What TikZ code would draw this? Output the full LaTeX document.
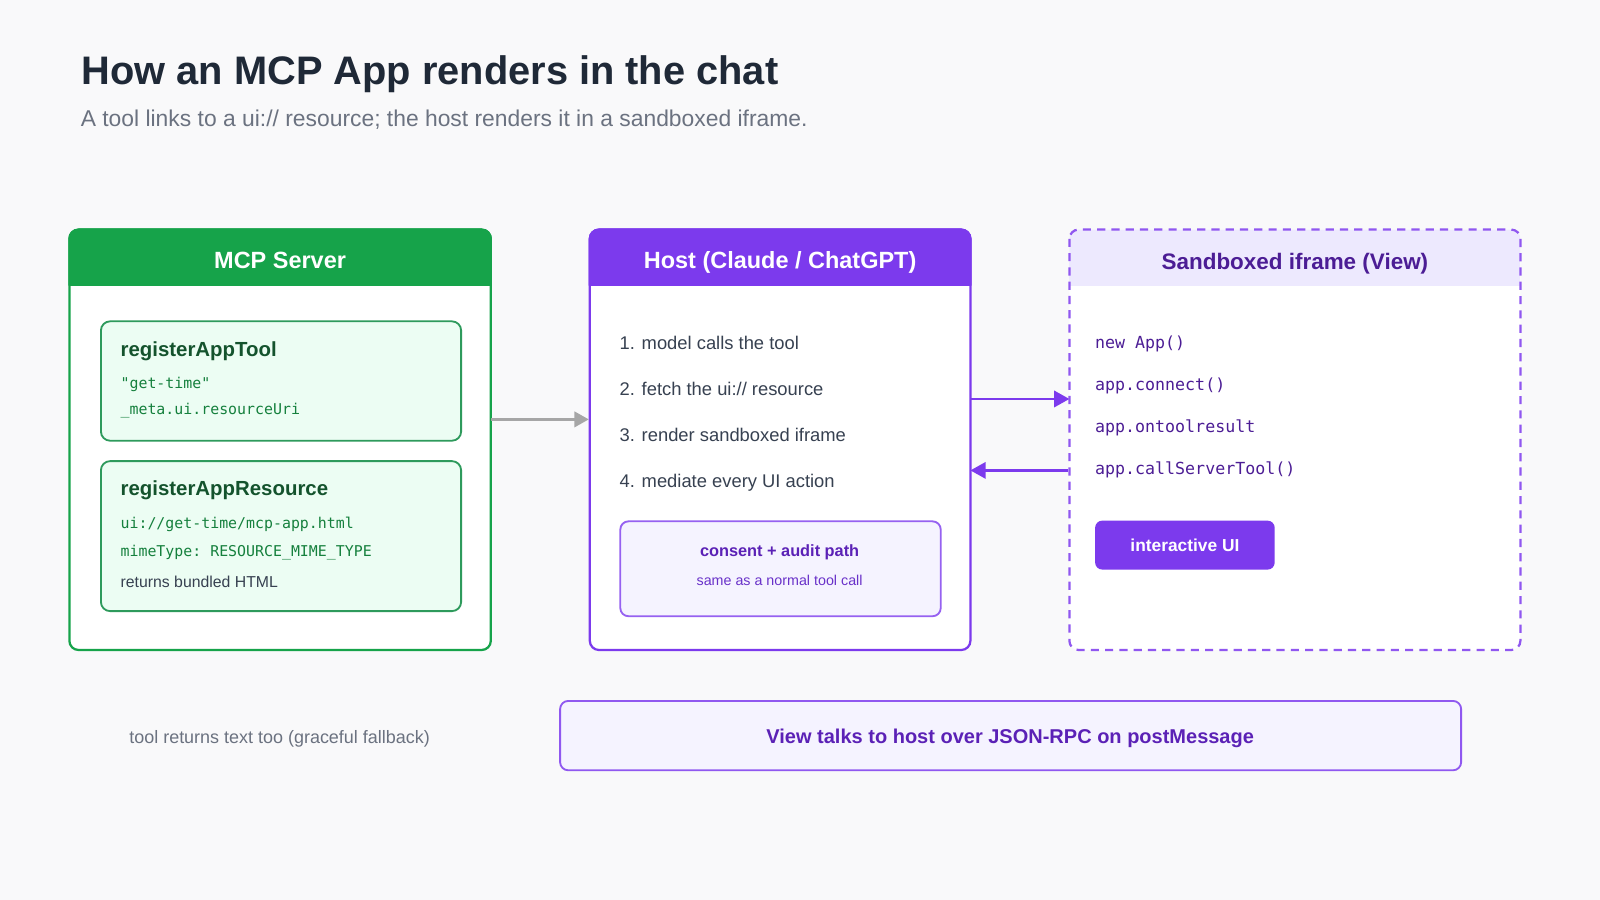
\documentclass[tikz,border=0pt]{standalone}
\usepackage{fontspec}
\setmainfont{Liberation Sans}
\setmonofont{DejaVu Sans Mono}
\usetikzlibrary{arrows.meta}
\definecolor{bg}{HTML}{F9F9FA}
\definecolor{grn}{HTML}{16A34A}
\definecolor{grnb}{HTML}{2E9A5C}
\definecolor{grnf}{HTML}{ECFDF3}
\definecolor{grnd}{HTML}{14532D}
\definecolor{grnt}{HTML}{15803D}
\definecolor{pur}{HTML}{7C3AED}
\definecolor{purf}{HTML}{F5F3FF}
\definecolor{purh}{HTML}{EDE9FE}
\definecolor{purd}{HTML}{4C1D95}
\definecolor{purt}{HTML}{5B21B6}
\definecolor{ink}{HTML}{1F2937}
\definecolor{gry}{HTML}{6B7280}
\definecolor{txt}{HTML}{374151}
\tikzset{
  panel/.style={rounded corners=9pt,line width=2.2pt,fill=white},
  inner/.style={rounded corners=9pt,line width=1.8pt,draw=grnb,fill=grnf},
  lbl/.style={anchor=base west,inner sep=0pt},
  ctr/.style={anchor=base,inner sep=0pt},
  mono/.style={lbl,font=\fontsize{14.6}{18}\selectfont\ttfamily},
  hstep/.style={lbl,text=txt,font=\fontsize{18}{22}\selectfont},
  code/.style={lbl,text=purd,font=\fontsize{16.3}{19}\selectfont\ttfamily},
  arr/.style={line width=2.5pt,-{Triangle[length=15pt,width=16pt]}}
}
\begin{document}
\begin{tikzpicture}[x=1pt,y=-1pt]
\fill[bg] (0,0) rectangle (1568,882);
\useasboundingbox (0,0) rectangle (1568,882);
\node[lbl,text=ink,font=\fontsize{39}{44}\selectfont\bfseries] (title) at (80,83) {How an MCP App renders in the chat};
\node[lbl,text=gry,font=\fontsize{22.4}{27}\selectfont] (sub) at (79,124) {A tool links to a ui:// resource; the host renders it in a sandboxed iframe.};

% MCP server panel
\draw[panel,draw=grn] (68,225) rectangle (481,637);
\fill[grn,rounded corners=9pt] (68,225) rectangle (481,262);
\fill[grn] (68,250) rectangle (481,280);
\draw[grn,line width=2.2pt,rounded corners=9pt] (68,280) -- (68,225) -- (481,225) -- (481,280);
\node[ctr,text=white,font=\fontsize{23}{28}\selectfont\bfseries] (srvh) at (274.5,263) {MCP Server};
\node[inner,minimum width=353pt,minimum height=117pt,anchor=north west] (tool) at (98,314) {};
\node[lbl,text=grnd,font=\fontsize{20}{24}\selectfont\bfseries] (toolt) at (118,349) {registerAppTool};
\node[mono,text=grnt] (t1) at (118,381) {"get-time"};
\node[mono,text=grnt] (t2) at (118,406) {\_meta.ui.resourceUri};
\node[inner,minimum width=353pt,minimum height=147pt,anchor=north west] (res) at (98,451) {};
\node[lbl,text=grnd,font=\fontsize{20}{24}\selectfont\bfseries] (rest) at (118,486) {registerAppResource};
\node[mono,text=grnt] (r1) at (118,518) {ui://get-time/mcp-app.html};
\node[mono,text=grnt] (r2) at (118,545) {mimeType: RESOURCE\_MIME\_TYPE};
\node[lbl,text=txt,font=\fontsize{15.5}{18}\selectfont] (r3) at (118,576) {returns bundled HTML};

% Host panel
\draw[panel,draw=pur] (578,225) rectangle (951,637);
\fill[pur,rounded corners=9pt] (578,225) rectangle (951,262);
\fill[pur] (578,250) rectangle (951,280);
\draw[pur,line width=2.2pt,rounded corners=9pt] (578,280) -- (578,225) -- (951,225) -- (951,280);
\node[ctr,text=white,font=\fontsize{23}{28}\selectfont\bfseries] (hosth) at (764.5,263) {Host (Claude / ChatGPT)};
\node[hstep] (s1) at (607,343) {1. model calls the tool};
\node[hstep] (s2) at (607,388) {2. fetch the ui:// resource};
\node[hstep] (s3) at (607,433) {3. render sandboxed iframe};
\node[hstep] (s4) at (607,478) {4. mediate every UI action};
\node[draw=pur!80,line width=1.8pt,fill=purf,rounded corners=8pt,minimum width=314pt,minimum height=93pt,anchor=north west] (consent) at (607,510) {};
\node[ctr,text=purt,font=\fontsize{16}{19}\selectfont\bfseries] (c1) at (764,545) {consent + audit path};
\node[ctr,text=pur!85!black,font=\fontsize{14}{17}\selectfont] (c2) at (764,574) {same as a normal tool call};

% View panel
\fill[white,rounded corners=9pt] (1048,225) rectangle (1490,637);
\fill[purh,rounded corners=9pt] (1048,225) rectangle (1490,262);
\fill[purh] (1048,250) rectangle (1490,280);
\draw[pur!85,line width=2.2pt,dash pattern=on 8pt off 6pt,rounded corners=9pt] (1048,225) rectangle (1490,637);
\node[ctr,text=purd,font=\fontsize{22}{26}\selectfont\bfseries] (viewh) at (1269,264) {Sandboxed iframe (View)};
\node[code] (v1) at (1073,342) {new App()};
\node[code] (v2) at (1073,383) {app.connect()};
\node[code] (v3) at (1073,424) {app.ontoolresult};
\node[code] (v4) at (1073,465) {app.callServerTool()};
\node[fill=pur,rounded corners=7pt,minimum width=176pt,minimum height=48pt,anchor=north west] (ui) at (1073,510) {};
\node[text=white,font=\fontsize{17}{20}\selectfont\bfseries] (uit) at (ui.center) {interactive UI};

% connectors
\coordinate (a1s) at (481,411); \coordinate (a1e) at (577,411);
\draw[line width=2.5pt,draw=gray!70,-{Triangle[length=14pt,width=15pt]}] (a1s) -- (a1e);
\coordinate (a2s) at (952,391); \coordinate (a2e) at (1048,391);
\draw[arr,pur] (a2s) -- (a2e);
\coordinate (a3s) at (1047,461); \coordinate (a3e) at (951,461);
\draw[arr,pur] (a3s) -- (a3e);

% bottom
\node[ctr,text=gry,font=\fontsize{17.6}{21}\selectfont] (fb) at (274,729) {tool returns text too (graceful fallback)};
\node[draw=pur!85,line width=1.8pt,fill=purf,rounded corners=8pt,minimum width=883pt,minimum height=68pt,anchor=north west] (rpc) at (548,686) {};
\node[ctr,text=purt,font=\fontsize{19.6}{23}\selectfont\bfseries] (rpct) at (990,729) {View talks to host over JSON-RPC on postMessage};
\end{tikzpicture}
\end{document}
